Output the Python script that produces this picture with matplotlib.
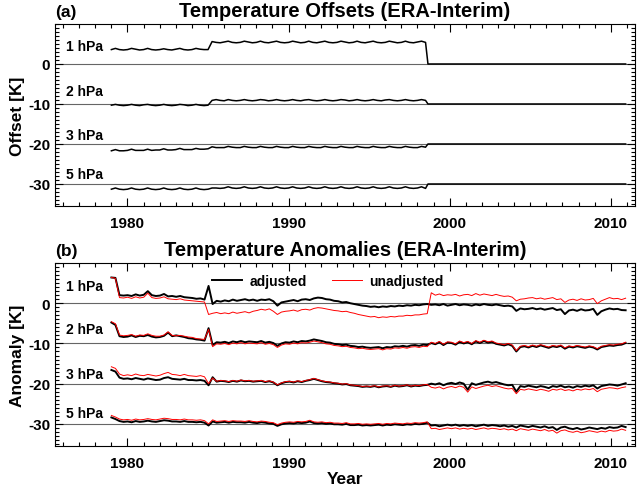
## Temperature offsets and anomalies (ERA-Interim), two stacked panels

import numpy as np
import matplotlib
matplotlib.use("Agg")
import matplotlib.pyplot as plt
from matplotlib.ticker import MultipleLocator

plt.rcParams["font.family"] = ["Liberation Sans", "DejaVu Sans"]
plt.rcParams["font.weight"] = "bold"
plt.rcParams["axes.unicode_minus"] = False

## pressure levels and the vertical shift used to stack them
levels = ["1 hPa", "2 hPa", "3 hPa", "5 hPa"]
shifts = [0, -10, -20, -30]

## ---- panel (a): offsets, quarterly from 1979.0 to 1998.5, then flat ----
off_1hPa = [3.6, 3.9, 3.6, 3.5, 3.6, 3.9, 3.7, 3.5, 3.6, 3.9, 3.6, 3.5,
            3.6, 3.8, 3.6, 3.5, 3.7, 3.9, 3.6, 3.5, 3.6, 3.9, 3.7, 3.6,
            3.6, 5.6, 5.4, 5.3, 5.5, 5.7, 5.4, 5.3, 5.4, 5.7, 5.5, 5.3,
            5.4, 5.7, 5.4, 5.3, 5.5, 5.7, 5.4, 5.3, 5.4, 5.7, 5.5, 5.3,
            5.4, 5.7, 5.4, 5.3, 5.5, 5.7, 5.4, 5.3, 5.4, 5.7, 5.5, 5.3,
            5.4, 5.7, 5.4, 5.3, 5.5, 5.7, 5.4, 5.3, 5.4, 5.7, 5.5, 5.3,
            5.4, 5.7, 5.4, 5.3, 5.5, 5.7, 5.4, 0.0, 0.0]
off_2hPa = [-0.3, -0.1, -0.3, -0.4, -0.3, -0.1, -0.3, -0.4, -0.2, -0.1, -0.3, -0.4,
            -0.3, -0.1, -0.3, -0.4, -0.3, -0.1, -0.2, -0.4, -0.3, -0.1, -0.3, -0.4,
            -0.3, 0.9, 1.1, 0.9, 0.8, 1.1, 0.9, 0.8, 0.9, 1.1, 0.9, 0.8,
            0.9, 1.1, 1.0, 0.8, 0.9, 1.1, 0.9, 0.8, 0.9, 1.1, 0.9, 0.8,
            1.0, 1.1, 0.9, 0.8, 0.9, 1.1, 0.9, 0.8, 0.9, 1.1, 1.0, 0.8,
            0.9, 1.1, 0.9, 0.8, 0.9, 1.1, 0.9, 0.8, 1.0, 1.1, 0.9, 0.8,
            0.9, 1.1, 0.9, 0.8, 0.9, 1.1, 0.9, 0.0, 0.0]
off_3hPa = [-1.7, -1.4, -1.7, -1.7, -1.6, -1.3, -1.6, -1.6, -1.6, -1.3, -1.6, -1.5,
            -1.5, -1.2, -1.5, -1.5, -1.4, -1.1, -1.4, -1.4, -1.4, -1.1, -1.3, -1.3,
            -1.2, -0.7, -0.9, -0.9, -0.9, -0.6, -0.8, -0.9, -0.9, -0.6, -0.8, -0.9,
            -0.9, -0.6, -0.8, -0.9, -0.9, -0.6, -0.8, -0.9, -0.9, -0.6, -0.8, -0.9,
            -0.9, -0.6, -0.8, -0.9, -0.9, -0.6, -0.8, -0.9, -0.9, -0.6, -0.8, -0.9,
            -0.9, -0.6, -0.8, -0.9, -0.9, -0.6, -0.8, -0.9, -0.9, -0.6, -0.8, -0.9,
            -0.9, -0.6, -0.8, -0.9, -0.9, -0.6, -0.8, 0.0, 0.0]
off_5hPa = [-1.3, -1.0, -1.3, -1.4, -1.3, -1.0, -1.3, -1.4, -1.3, -1.0, -1.3, -1.4,
            -1.3, -1.0, -1.3, -1.4, -1.3, -1.0, -1.3, -1.4, -1.3, -1.0, -1.3, -1.4,
            -1.3, -1.0, -1.0, -1.1, -1.0, -0.7, -1.0, -1.1, -1.0, -0.7, -1.0, -1.1,
            -1.0, -0.7, -1.0, -1.1, -1.0, -0.7, -1.0, -1.1, -1.0, -0.7, -1.0, -1.1,
            -1.0, -0.7, -1.0, -1.1, -1.0, -0.7, -1.0, -1.1, -1.0, -0.7, -1.0, -1.1,
            -1.0, -0.7, -1.0, -1.1, -1.0, -0.7, -1.0, -1.1, -1.0, -0.7, -1.0, -1.1,
            -1.0, -0.7, -1.0, -1.1, -1.0, -0.7, -1.1, 0.0, 0.0]

## ---- panel (b): anomalies, quarterly 1979 - 2010 (one row = 4 years) ----
adj_1hPa = [6.4, 6.3, 2.0, 1.9, 2.0, 1.8, 2.2, 1.9, 2.1, 3.0, 2.0, 1.8, 1.9, 2.3, 1.7, 1.8,
            1.6, 1.8, 1.5, 1.4, 1.3, 1.1, 1.2, 0.9, 4.3, -0.2, 0.6, 0.4, 0.7, 0.5, 0.9, 0.6,
            0.8, 1.0, 0.7, 0.9, 0.6, 0.9, 0.8, 1.0, 0.5, -0.6, 0.2, 0.4, 0.6, 0.8, 0.5, 0.9,
            1.0, 0.8, 1.2, 1.4, 1.3, 1.0, 0.9, 0.6, 0.5, 0.2, 0.3, 0.0, -0.2, -0.4, -0.6, -0.7,
            -0.9, -0.8, -1.0, -0.8, -0.9, -0.7, -0.8, -0.6, -0.7, -0.5, -0.6, -0.4, -0.5, -0.3, -0.2, -0.4,
            -0.3, -0.5, -0.2, -0.6, -0.4, -0.2, -0.5, -0.3, -0.4, -0.6, -0.3, -0.5, -0.2, -0.4, -0.5, -0.3,
            -0.5, -0.7, -0.6, -0.8, -1.9, -1.3, -1.5, -1.4, -1.2, -1.5, -1.3, -1.6, -1.4, -1.2, -1.7, -1.5,
            -2.7, -1.8, -1.6, -1.9, -1.5, -1.8, -1.7, -1.4, -2.9, -2.0, -1.6, -1.3, -1.5, -1.4, -1.7, -1.75]
unadj_1hPa = [6.4, 6.2, 1.4, 1.3, 1.5, 1.2, 1.6, 1.3, 1.5, 2.5, 1.4, 1.2, 1.3, 1.6, 1.1, 1.0,
              0.9, 1.1, 0.8, 0.7, 0.6, 0.5, 0.4, 0.3, -2.8, -2.5, -2.3, -2.6, -2.4, -2.6, -2.2, -2.5,
              -2.3, -2.1, -2.4, -2.0, -1.8, -1.5, -1.7, -1.4, -2.0, -2.8, -2.2, -2.0, -1.9, -1.7, -2.0, -1.6,
              -1.5, -1.7, -1.3, -1.1, -1.2, -1.4, -1.6, -1.8, -1.9, -2.1, -2.0, -2.3, -2.5, -2.8, -3.0, -3.2,
              -3.4, -3.3, -3.6, -3.4, -3.5, -3.3, -3.4, -3.2, -3.2, -3.0, -3.1, -2.9, -2.9, -2.7, -2.6, 2.6,
              2.0, 2.3, 1.9, 2.1, 2.0, 2.2, 1.8, 2.1, 2.2, 1.9, 2.4, 2.0, 2.3, 2.1, 1.9, 2.2,
              1.9, 1.7, 1.8, 1.5, 0.6, 1.0, 1.1, 1.3, 1.4, 1.1, 1.3, 1.0, 1.2, 1.4, 0.9, 1.1,
              0.2, 0.8, 1.0, 0.7, 1.1, 0.8, 0.9, 1.2, -0.1, 0.6, 1.0, 1.4, 1.1, 1.2, 0.9, 1.25]
adj_2hPa = [5.2, 4.6, 1.8, 1.6, 1.7, 2.0, 1.6, 1.9, 1.8, 2.1, 1.7, 1.5, 1.6, 1.9, 2.7, 1.8,
            2.0, 1.8, 1.6, 1.3, 1.2, 1.0, 0.9, 0.7, 3.8, -0.4, 0.3, 0.2, 0.4, 0.1, 0.5, 0.3,
            0.6, 0.3, 0.5, 0.4, 0.3, 0.6, 0.2, 0.4, 0.1, -0.6, 0.0, 0.3, 0.2, 0.5, 0.3, 0.6,
            0.5, 0.7, 1.0, 0.8, 0.6, 0.3, 0.2, -0.1, -0.2, -0.4, -0.3, -0.6, -0.7, -0.9, -0.8, -1.0,
            -1.1, -1.0, -0.9, -1.2, -0.9, -1.0, -0.7, -0.8, -0.6, -0.8, -0.5, -0.4, -0.6, -0.3, -0.4, 0.1,
            -0.2, 0.3, -0.4, 0.2, 0.1, -0.3, 0.4, 0.0, 0.3, -0.2, 0.5, 0.1, 0.6, 0.2, 0.4, -0.1,
            -0.3, -0.5, -0.2, -0.6, -2.0, -0.9, -0.7, -1.0, -0.6, -0.9, -0.5, -0.8, -1.1, -0.7, -0.9, -0.6,
            -1.3, -0.8, -1.0, -0.7, -0.9, -1.1, -0.8, -1.0, -1.5, -0.9, -0.7, -0.5, -0.6, -0.4, -0.3, 0.1]
unadj_2hPa = [5.4, 4.9, 2.1, 1.9, 2.0, 2.2, 1.8, 2.1, 2.0, 2.4, 2.0, 1.8, 1.8, 2.1, 2.9, 2.0,
              1.9, 2.0, 1.8, 1.6, 1.5, 1.2, 1.1, 1.0, 3.5, -0.8, -0.1, -0.2, 0.0, -0.3, 0.1, -0.1,
              0.2, -0.1, 0.1, 0.0, -0.1, 0.2, -0.2, 0.0, -0.3, -1.0, -0.4, -0.1, -0.2, 0.1, -0.1, 0.2,
              0.1, 0.3, 0.6, 0.4, 0.2, -0.1, -0.2, -0.5, -0.6, -0.8, -0.7, -1.0, -1.1, -1.3, -1.2, -1.4,
              -1.5, -1.4, -1.3, -1.6, -1.3, -1.4, -1.1, -1.2, -1.0, -1.2, -0.9, -0.8, -1.0, -0.7, -0.8, 0.3,
              0.0, 0.5, -0.2, 0.4, 0.3, -0.1, 0.6, 0.2, 0.5, 0.0, 0.7, 0.3, 0.8, 0.4, 0.6, 0.1,
              -0.1, -0.3, 0.0, -0.4, -1.8, -0.7, -0.5, -0.8, -0.4, -0.7, -0.3, -0.6, -0.9, -0.5, -0.7, -0.4,
              -1.1, -0.6, -0.8, -0.5, -0.7, -0.9, -0.6, -0.8, -1.3, -0.7, -0.5, -0.3, -0.4, -0.2, -0.1, 0.3]
adj_3hPa = [3.4, 3.0, 1.5, 1.2, 1.3, 1.1, 1.4, 1.2, 1.0, 1.3, 1.1, 0.9, 1.0, 1.4, 1.6, 1.2,
            1.1, 1.0, 1.2, 0.9, 0.9, 0.8, 0.9, 0.7, -0.4, 1.6, 0.5, 0.7, 0.6, 0.4, 0.7, 0.5,
            0.8, 0.6, 0.7, 0.5, 0.6, 0.7, 0.4, 0.6, 0.3, -0.4, 0.1, 0.4, 0.5, 0.3, 0.6, 0.4,
            0.7, 0.9, 1.2, 0.9, 0.6, 0.4, 0.3, 0.1, 0.0, -0.2, -0.1, -0.4, -0.5, -0.6, -0.8, -0.7,
            -0.8, -0.6, -0.9, -0.7, -0.6, -0.8, -0.5, -0.7, -0.6, -0.4, -0.7, -0.5, -0.6, -0.4, -0.3, 0.0,
            -0.2, 0.1, -0.4, 0.0, 0.2, -0.1, 0.3, 0.0, -1.5, 0.1, -0.3, 0.0, 0.3, 0.5, 0.2, 0.4,
            0.1, -0.2, -0.4, -0.3, -2.0, -0.6, -0.8, -0.5, -0.7, -0.9, -0.6, -0.8, -1.1, -0.6, -0.8, -0.5,
            -0.9, -0.7, -1.0, -0.6, -0.8, -0.5, -0.7, -0.4, -1.2, -0.6, -0.4, -0.2, -0.3, -0.5, -0.2, 0.1]
unadj_3hPa = [4.2, 3.8, 2.4, 2.0, 2.2, 2.0, 2.4, 2.1, 2.0, 2.3, 2.1, 1.9, 2.1, 2.5, 2.8, 2.3,
              2.2, 2.0, 2.3, 2.0, 1.9, 1.8, 2.0, 1.7, 0.0, 1.4, 0.6, 0.8, 0.7, 0.5, 0.8, 0.6,
              0.9, 0.7, 0.8, 0.6, 0.7, 0.8, 0.5, 0.7, 0.4, -0.3, 0.2, 0.5, 0.6, 0.4, 0.7, 0.5,
              0.8, 1.0, 1.3, 1.0, 0.7, 0.5, 0.4, 0.2, 0.1, -0.1, 0.0, -0.3, -0.4, -0.5, -0.7, -0.6,
              -0.7, -0.5, -0.8, -0.6, -0.5, -0.7, -0.4, -0.6, -0.5, -0.3, -0.6, -0.4, -0.5, -0.3, -0.2, -0.9,
              -1.1, -0.8, -1.3, -0.9, -0.7, -1.0, -0.6, -0.9, -2.1, -0.8, -1.2, -0.9, -0.6, -0.4, -0.7, -0.5,
              -0.8, -1.1, -1.3, -1.2, -2.5, -1.4, -1.6, -1.3, -1.5, -1.7, -1.4, -1.6, -1.9, -1.4, -1.6, -1.3,
              -1.7, -1.5, -1.8, -1.4, -1.6, -1.3, -1.5, -1.2, -2.0, -1.4, -1.2, -1.0, -1.1, -1.3, -1.0, -0.8]
adj_5hPa = [1.6, 1.2, 0.7, 0.5, 0.6, 0.4, 0.7, 0.5, 0.6, 0.8, 0.6, 0.5, 0.7, 0.9, 0.8, 0.6,
            0.6, 0.5, 0.7, 0.5, 0.5, 0.4, 0.5, 0.3, -0.4, 0.6, 0.3, 0.4, 0.5, 0.3, 0.5, 0.4,
            0.4, 0.3, 0.5, 0.3, 0.2, 0.4, 0.3, 0.1, 0.0, -0.5, -0.1, 0.1, 0.2, 0.1, 0.3, 0.2,
            0.3, 0.6, 0.2, 0.1, 0.2, 0.0, 0.1, -0.1, -0.1, -0.2, 0.0, -0.3, -0.3, -0.2, -0.4, -0.3,
            -0.4, -0.3, -0.2, -0.4, -0.2, -0.3, -0.1, -0.2, -0.3, -0.1, -0.2, 0.0, -0.1, 0.0, 0.3, -0.4,
            -0.3, -0.6, -0.4, -0.2, -0.4, -0.2, -0.5, -0.3, -0.5, -0.3, -0.6, -0.4, -0.2, -0.5, -0.3, -0.4,
            -0.6, -0.4, -0.7, -0.5, -0.9, -0.4, -0.6, -0.8, -0.5, -0.7, -0.9, -0.6, -1.0, -0.8, -1.5, -0.9,
            -0.7, -1.1, -1.3, -1.0, -1.4, -1.2, -0.9, -1.1, -1.3, -1.0, -1.2, -0.8, -1.0, -0.9, -0.5, -0.8]
unadj_5hPa = [2.1, 1.7, 1.2, 1.0, 1.1, 0.9, 1.2, 1.0, 1.1, 1.3, 1.1, 1.0, 1.2, 1.4, 1.3, 1.1,
              1.1, 1.0, 1.2, 1.0, 1.0, 0.9, 1.0, 0.8, 0.0, 1.0, 0.6, 0.7, 0.8, 0.6, 0.8, 0.7,
              0.7, 0.6, 0.8, 0.6, 0.5, 0.7, 0.6, 0.4, 0.3, -0.2, 0.2, 0.4, 0.5, 0.4, 0.6, 0.5,
              0.6, 0.9, 0.5, 0.4, 0.5, 0.3, 0.4, 0.2, 0.2, 0.1, 0.3, 0.0, 0.0, 0.1, -0.1, 0.0,
              -0.1, 0.0, 0.1, -0.1, 0.1, 0.0, 0.2, 0.1, 0.0, 0.2, 0.1, 0.3, 0.2, 0.3, 0.5, -1.2,
              -1.1, -1.4, -1.2, -1.0, -1.2, -1.0, -1.3, -1.1, -1.3, -1.1, -1.4, -1.2, -1.0, -1.3, -1.1, -1.2,
              -1.4, -1.2, -1.5, -1.3, -1.7, -1.2, -1.4, -1.6, -1.3, -1.5, -1.7, -1.4, -1.8, -1.6, -2.3, -1.7,
              -1.5, -1.9, -2.1, -1.8, -2.2, -2.0, -1.7, -1.9, -2.1, -1.8, -2.0, -1.6, -1.8, -1.7, -1.3, -1.6]

offsets = [off_1hPa, off_2hPa, off_3hPa, off_5hPa]
adjusted = [adj_1hPa, adj_2hPa, adj_3hPa, adj_5hPa]
unadjusted = [unadj_1hPa, unadj_2hPa, unadj_3hPa, unadj_5hPa]

## time axes (decimal years)
t_off = list(np.linspace(1979.0, 1998.5, 79)) + [1998.65, 2010.92]
t_anom = np.linspace(1979.0, 2010.92, 128)

## label heights next to each curve
label_y_a = [4.6, -6.7, -17.7, -27.5]
label_y_b = [4.3, -6.3, -17.7, -27.3]

fig = plt.figure(figsize=(6.44, 4.89), dpi=100)
ax_a = fig.add_axes([0.0854, 0.5767, 0.9006, 0.3722])
ax_b = fig.add_axes([0.0854, 0.0859, 0.9006, 0.3742])


def style_axis(ax):
    ax.set_xlim(1975.5, 2011.5)
    ax.set_ylim(-35.5, 10)
    ax.xaxis.set_major_locator(MultipleLocator(10))
    ax.xaxis.set_minor_locator(MultipleLocator(1))
    ax.yaxis.set_major_locator(MultipleLocator(10))
    ax.yaxis.set_minor_locator(MultipleLocator(1))
    ax.set_yticks([0, -10, -20, -30])
    ax.tick_params(which="both", direction="in", top=True, right=True, labelsize=11, width=0.8)
    ax.tick_params(which="major", length=6)
    ax.tick_params(which="minor", length=3)
    ax.tick_params(axis="x", pad=7)
    for s in ax.spines.values():
        s.set_linewidth(0.8)
    for lab in ax.get_xticklabels() + ax.get_yticklabels():
        lab.set_fontweight("bold")
    for sh in shifts:
        ax.axhline(sh, color="0.4", lw=0.8, zorder=1)


## panel (a)
style_axis(ax_a)
for name, off, sh, ly in zip(levels, offsets, shifts, label_y_a):
    ax_a.plot(t_off, np.array(off) + sh, color="black", lw=1.1, zorder=3)
    ax_a.text(1976.2, ly, name, fontsize=10, fontweight="bold", va="center")
ax_a.set_title("Temperature Offsets (ERA-Interim)", fontsize=14.5, fontweight="bold", pad=6)
ax_a.set_title("(a)", loc="left", fontsize=12.5, fontweight="bold", pad=6)
ax_a.set_ylabel("Offset [K]", fontsize=12.5, fontweight="bold", labelpad=2)

## panel (b)
style_axis(ax_b)
for i, (name, sh, ly) in enumerate(zip(levels, shifts, label_y_b)):
    ax_b.plot(t_anom, np.array(adjusted[i]) + sh, color="black", lw=1.4, zorder=3,
              label="adjusted" if i == 0 else None)
    ax_b.plot(t_anom, np.array(unadjusted[i]) + sh, color="red", lw=0.7, zorder=4,
              label="unadjusted" if i == 0 else None)
    ax_b.text(1976.2, ly, name, fontsize=10, fontweight="bold", va="center")
ax_b.set_title("Temperature Anomalies (ERA-Interim)", fontsize=14.5, fontweight="bold", pad=6)
ax_b.set_title("(b)", loc="left", fontsize=12.5, fontweight="bold", pad=6)
ax_b.set_ylabel("Anomaly [K]", fontsize=12.5, fontweight="bold", labelpad=2)
ax_b.set_xlabel("Year", fontsize=12.5, fontweight="bold", labelpad=1)
ax_b.legend(loc="center", bbox_to_anchor=(0.47, 0.90), ncol=2, frameon=False,
            fontsize=10, handlelength=2.2, handletextpad=0.5, columnspacing=1.8,
            prop={"weight": "bold", "size": 10})

fig.savefig("out.png", dpi=100)
